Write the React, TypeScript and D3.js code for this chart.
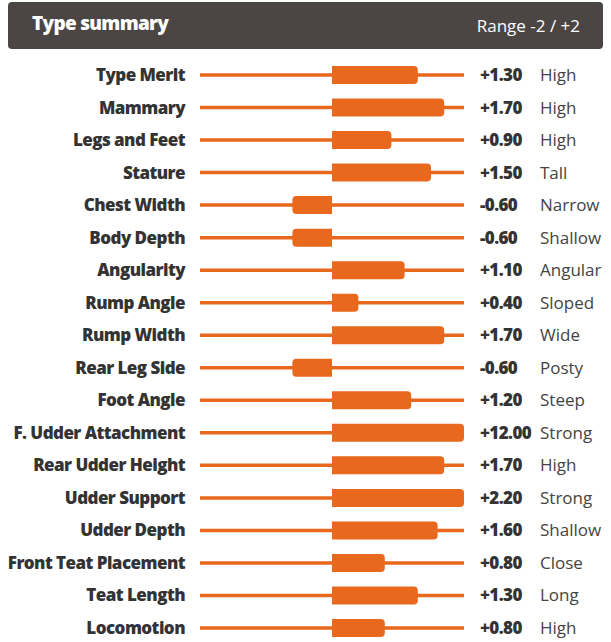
import React from "react";
import * as d3 from "d3";

const traits = [
  "Type Merit", "Mammary", "Legs and Feet", "Stature", "Chest Width", "Body Depth",
  "Angularity", "Rump Angle", "Rump Width", "Rear Leg Side", "Foot Angle",
  "F. Udder Attachment", "Rear Udder Height", "Udder Support", "Udder Depth",
  "Front Teat Placement", "Teat Length", "Locomotion",
];
const values = [1.3, 1.7, 0.9, 1.5, -0.6, -0.6, 1.1, 0.4, 1.7, -0.6, 1.2, 12.0, 1.7, 2.2, 1.6, 0.8, 1.3, 0.8];
const descriptors = [
  "High", "High", "High", "Tall", "Narrow", "Shallow", "Angular", "Sloped", "Wide", "Posty",
  "Steep", "Strong", "High", "Strong", "Shallow", "Close", "Long", "High",
];
const rangeDomain = [-2, 2];

const W = 611;
const H = 642;
const ORANGE = "#e8681e";

function barPath(x0: number, x1: number, yc: number, h: number, r: number) {
  const top = yc - h / 2;
  const bot = yc + h / 2;
  if (Math.abs(x1 - x0) < 1) return "";
  if (x1 > x0) {
    const rr = Math.min(r, x1 - x0);
    return `M${x0},${top}H${x1 - rr}Q${x1},${top} ${x1},${top + rr}V${bot - rr}Q${x1},${bot} ${x1 - rr},${bot}H${x0}Z`;
  }
  const rr = Math.min(r, x0 - x1);
  return `M${x0},${top}H${x1 + rr}Q${x1},${top} ${x1},${top + rr}V${bot - rr}Q${x1},${bot} ${x1 + rr},${bot}H${x0}Z`;
}

export default function App() {
  const x = d3.scaleLinear().domain(rangeDomain).range([200, 464]).clamp(true);
  const y = d3.scalePoint<string>().domain(traits).range([75, 628]);
  const fmt = (v: number) => (v > 0 ? "+" : "") + v.toFixed(2);

  return (
    <svg
      width={W}
      height={H}
      style={{ position: "absolute", left: 0, top: 0 }}
      fontFamily="'Open Sans', sans-serif"
    >
      <rect x={8} y={2} width={595} height={47} rx={4} fill="#4b4643" />
      <text x={32} y={30} fill="#fff" fontSize={19} fontWeight={800} letterSpacing={-0.7}>
        Type summary
      </text>
      <text x={580} y={32} fill="#fff" fontSize={17} textAnchor="end">
        Range -2 / +2
      </text>

      {traits.map((t, i) => {
        const yc = y(t) as number;
        const v = values[i];
        return (
          <g key={t}>
            <text
              x={185}
              y={yc + 6}
              textAnchor="end"
              fontSize={17}
              fontWeight={800}
              fill="#333"
              letterSpacing={-0.55}
            >
              {t}
            </text>
            <line x1={x(rangeDomain[0])} x2={x(rangeDomain[1])} y1={yc} y2={yc} stroke={ORANGE} strokeWidth={3.5} />
            <path d={barPath(x(0), x(v), yc, 18, 4)} fill={ORANGE} />
            <text x={480} y={yc + 6} fontSize={17} fontWeight={800} fill="#333" letterSpacing={-0.6}>
              {fmt(v)}
            </text>
            <text x={540} y={yc + 6} fontSize={17} fill="#444">
              {descriptors[i]}
            </text>
          </g>
        );
      })}
    </svg>
  );
}
